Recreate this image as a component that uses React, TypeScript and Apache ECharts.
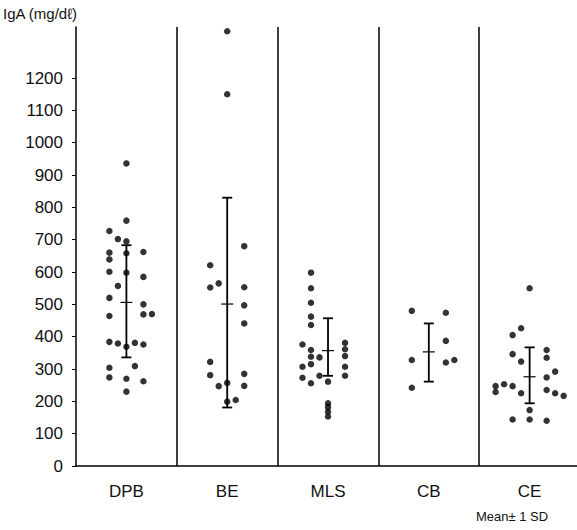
import React, { useEffect, useRef } from "react";
import * as echarts from "echarts";

const categories = ["DPB", "BE", "MLS", "CB", "CE"];
const yTickValues = [0, 100, 200, 300, 400, 500, 600, 700, 800, 900, 1000, 1100, 1200];

// each dot: [column slot within group, IgA value]
const dpbDots: [number, number][] = [
  [0, 936], [0, 759], [-2, 727], [-1, 702], [0, 695], [-2, 660], [-2, 639], [0, 658], [2, 662],
  [-2, 601], [0, 598], [2, 585], [-1, 557], [-2, 520], [2, 500], [-2, 464], [2, 469], [3, 470],
  [-2, 384], [-1, 379], [0, 369], [1, 381], [2, 376], [-2, 304], [1, 309], [-2, 274], [0, 270],
  [2, 262], [0, 230],
];
const beDots: [number, number][] = [
  [0, 1345], [0, 1150], [2, 680], [-2, 621], [-1, 565], [-2, 552], [2, 553], [2, 497], [2, 441],
  [-2, 322], [-2, 281], [2, 285], [-1, 247], [0, 257], [2, 248], [0, 199], [1, 204],
];
const mlsDots: [number, number][] = [
  [-2, 598], [-2, 550], [-2, 505], [-2, 462], [-2, 436], [-3, 376], [-2, 359], [-2, 338], [-1, 336],
  [-2, 315], [-3, 307], [-3, 273], [-2, 256], [-1, 279], [0, 261], [0, 194], [0, 182], [0, 168],
  [0, 153], [2, 381], [2, 361], [2, 340], [2, 307], [2, 279],
];
const cbDots: [number, number][] = [
  [-2, 480], [2, 474], [2, 387], [-2, 328], [2, 320], [3, 328], [-2, 242],
];
const ceDots: [number, number][] = [
  [0, 550], [-1, 426], [-2, 405], [-2, 346], [-1, 323], [2, 359], [2, 335], [3, 292], [2, 274],
  [-4, 247], [-4, 229], [-3, 253], [-2, 247], [-1, 225], [2, 235], [3, 225], [4, 217], [0, 173],
  [-2, 144], [0, 144], [2, 140],
];
const groupDots = [dpbDots, beDots, mlsDots, cbDots, ceDots];

const meanValues = [506, 501, 357, 353, 276];
const sdLowValues = [336, 181, 279, 261, 194];
const sdHighValues = [683, 830, 457, 441, 367];

const SLOT = 0.0844;
const FONT = "'Liberation Sans', Arial, sans-serif";

export default function App() {
  const ref = useRef<HTMLDivElement>(null);
  useEffect(() => {
    if (!ref.current) return;
    const chart = echarts.init(ref.current, undefined, { renderer: "svg" });
    const dotData = groupDots.flatMap((dots, i) =>
      dots.map(([slot, v]) => [i + 0.5 + slot * SLOT, v])
    );
    const errData = categories.map((_, i) => [i + 0.5, meanValues[i], sdLowValues[i], sdHighValues[i]]);
    chart.setOption({
      animation: false,
      backgroundColor: "#fff",
      grid: { left: 76, right: 0, top: 27, bottom: 64, containLabel: false },
      xAxis: {
        type: "value",
        min: 0,
        max: 4.97,
        interval: 1,
        axisLine: { show: true, lineStyle: { color: "#000", width: 1.5 } },
        axisTick: { show: false },
        splitLine: { show: false },
        axisLabel: {
          customValues: categories.map((_, i) => i + 0.5),
          formatter: (v: number) => categories[Math.floor(v)] ?? "",
          color: "#111",
          fontFamily: FONT,
          fontSize: 17,
          margin: 17,
        },
      },
      yAxis: {
        type: "value",
        min: 0,
        max: 1358,
        interval: 100,
        axisLine: { show: true, lineStyle: { color: "#000", width: 1.5 } },
        axisTick: { show: true, length: 4, customValues: yTickValues, lineStyle: { color: "#000", width: 1 } },
        splitLine: { show: false },
        axisLabel: {
          customValues: yTickValues,
          formatter: (v: number) => (v <= 1200 ? String(v) : ""),
          color: "#111",
          fontFamily: FONT,
          fontSize: 17,
          margin: 13,
        },
      },
      series: [
        {
          type: "scatter",
          data: dotData,
          symbol: "circle",
          symbolSize: 6.5,
          itemStyle: { color: "#000" },
          silent: true,
          markLine: {
            silent: true,
            symbol: ["none", "none"],
            label: { show: false },
            lineStyle: { color: "#000", width: 1.5, type: "solid" },
            data: [1, 2, 3, 4].map((x) => ({ xAxis: x })),
          },
        },
        {
          type: "custom",
          data: errData,
          silent: true,
          renderItem: (params: any, api: any) => {
            const x = api.value(0);
            const mean = api.coord([x, api.value(1)]);
            const lo = api.coord([x, api.value(2)]);
            const hi = api.coord([x, api.value(3)]);
            const style = { stroke: "#000", lineWidth: 1.8 };
            const cap = 5;
            const mt = 6;
            return {
              type: "group",
              children: [
                { type: "line", shape: { x1: hi[0], y1: hi[1], x2: lo[0], y2: lo[1] }, style },
                { type: "line", shape: { x1: hi[0] - cap, y1: hi[1], x2: hi[0] + cap, y2: hi[1] }, style },
                { type: "line", shape: { x1: lo[0] - cap, y1: lo[1], x2: lo[0] + cap, y2: lo[1] }, style },
                { type: "line", shape: { x1: mean[0] - mt, y1: mean[1], x2: mean[0] + mt, y2: mean[1] }, style: { stroke: "#000", lineWidth: 1.2 } },
              ],
            };
          },
        },
      ],
      graphic: [
        {
          type: "text",
          left: 3,
          top: 6,
          style: { text: "IgA (mg/dℓ)", fill: "#111", font: `15px ${FONT}` },
        },
        {
          type: "text",
          left: 476,
          top: 510,
          style: { text: "Mean± 1 SD", fill: "#111", font: `13px ${FONT}` },
        },
      ],
    });
    return () => chart.dispose();
  }, []);
  return <div ref={ref} style={{ position: "fixed", left: 0, top: 0, width: 577, height: 530 }} />;
}
